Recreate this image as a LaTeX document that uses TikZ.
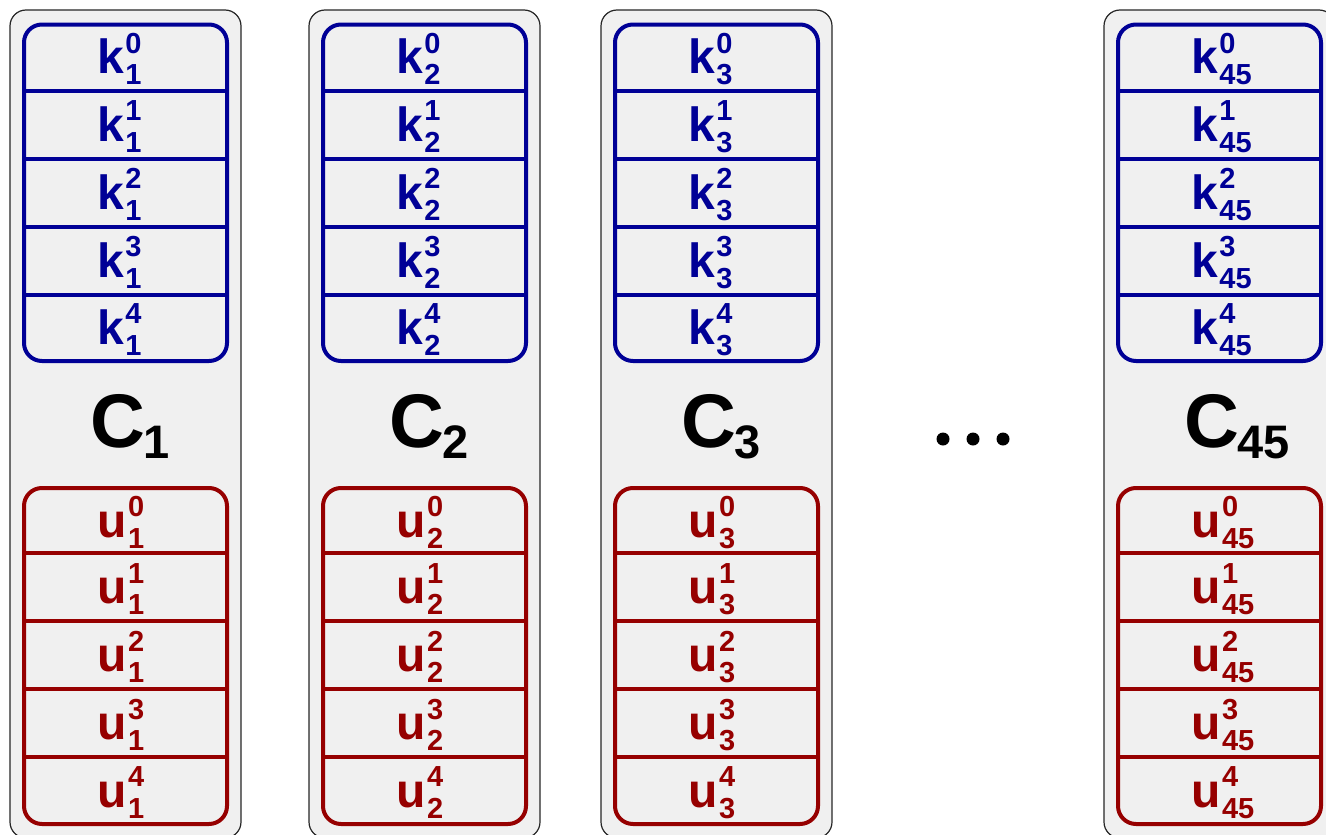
\documentclass[tikz,border=0pt]{standalone}
\usepackage{fontspec}
\setmainfont{Liberation Sans}
\definecolor{keyblue}{RGB}{0,0,150}
\definecolor{valred}{RGB}{150,0,0}
\definecolor{panelgray}{RGB}{240,240,240}

% letter with a stacked superscript / subscript pair
\newcommand\slot[3]{%
  {\fontsize{48}{48}\selectfont\bfseries #1}\hspace{1.5pt}%
  \makebox[0pt][l]{\raisebox{20.5pt}{\fontsize{29}{29}\selectfont\bfseries #2}}%
  \raisebox{-11pt}{\fontsize{29}{29}\selectfont\bfseries #3}}

\tikzset{
  panel/.style={draw=black!85, fill=panelgray, line width=1.2pt, rounded corners=16pt},
  keystack/.style={draw=keyblue, line width=4pt, rounded corners=18pt},
  valstack/.style={draw=valred, line width=4pt, rounded corners=18pt},
  keyrule/.style={draw=keyblue, line width=4pt},
  valrule/.style={draw=valred, line width=4pt},
  slotlabel/.style={anchor=base west, inner sep=0pt},
  dot/.style={circle, fill=black, inner sep=0pt, minimum size=13pt}
}

\begin{document}
\begin{tikzpicture}[x=1pt, y=-1pt]
\useasboundingbox (0,0) rectangle (1326,835);
\clip (0,0) rectangle (1326,835);

\foreach \n/\L in {1/10, 2/309, 3/601, 45/1104} {
  % cluster panel
  \path[panel] (\L,10) rectangle (\L+231,838);
  % key stack
  \path[keystack] (\L+14,24.5) rectangle (\L+217,361);
  \foreach \yy in {91,159,227,295}
    \path[keyrule] (\L+14,\yy) -- (\L+217,\yy);
  \foreach \i/\yc in {0/57.75,1/125,2/193,3/261,4/328}
    \node[slotlabel, text=keyblue] (k\n-\i) at (\L+87,\yc+16) {\slot{k}{\i}{\n}};
  % cluster name
  \node[slotlabel] (C\n) at (\L+80.5,447)
    {\fontsize{76}{76}\selectfont\bfseries C\hspace{-2pt}\raisebox{-11pt}{\fontsize{47}{47}\selectfont\bfseries\n}};
  % value stack
  \path[valstack] (\L+14,488) rectangle (\L+217,824);
  \foreach \yy in {553,621,689,757}
    \path[valrule] (\L+14,\yy) -- (\L+217,\yy);
  \foreach \i/\yc in {0/520.5,1/587,2/655,3/723,4/790.5}
    \node[slotlabel, text=valred] (u\n-\i) at (\L+87,\yc+16.5) {\slot{u}{\i}{\n}};
}

% ellipsis between the clusters
\node[dot] (d1) at (943,439) {};
\node[dot] (d2) at (973,439) {};
\node[dot] (d3) at (1003,439) {};
\end{tikzpicture}
\end{document}
